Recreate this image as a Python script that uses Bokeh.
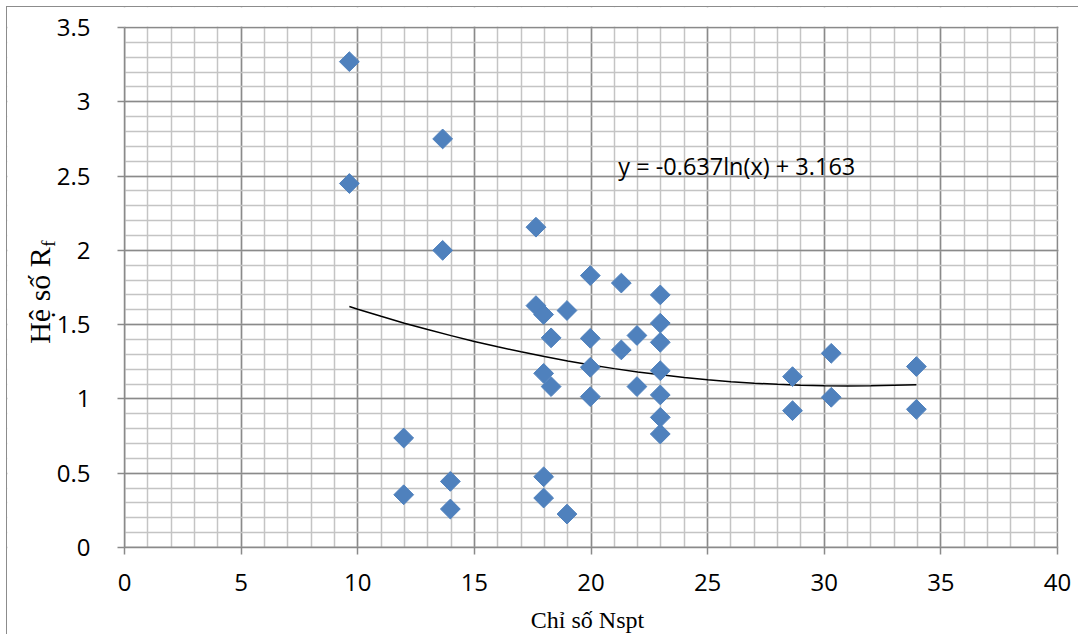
import math
from bokeh.plotting import figure
from bokeh.models import (Range1d, SingleIntervalTicker, FixedTicker, Label,
                          ColumnDataSource, BoxAnnotation, LinearAxis)
from bokeh.embed import file_html
from bokeh.resources import INLINE

# Data
nspt = [9.64, 9.64, 13.64, 13.64, 11.97, 11.97, 13.97, 13.97,
        17.64, 17.64, 17.97, 17.97, 17.97, 17.97, 18.29, 18.29,
        18.97, 18.97, 19.97, 19.97, 19.97, 19.97, 21.3, 21.3,
        21.97, 21.97, 22.97, 22.97, 22.97, 22.97, 22.97, 22.97, 22.97,
        28.64, 28.64, 30.3, 30.3, 33.95, 33.95]
rf = [3.27, 2.45, 2.75, 2.0, 0.737, 0.355, 0.445, 0.259,
      2.156, 1.628, 1.568, 1.172, 0.476, 0.333, 1.411, 1.083,
      1.595, 0.225, 1.83, 1.408, 1.213, 1.015, 1.78, 1.33,
      1.427, 1.083, 1.70, 1.51, 1.381, 1.19, 1.027, 0.876, 0.764,
      1.150, 0.921, 1.307, 1.011, 1.218, 0.930]

trend_x = [9.64, 10, 11, 12, 13, 14, 15, 16, 17, 18, 19, 20, 21, 22,
           23, 24, 25, 26, 27, 28, 29, 30, 31, 32, 33, 33.95]
trend_y = [1.622, 1.604, 1.556, 1.510, 1.467, 1.426, 1.387, 1.351, 1.317,
           1.285, 1.256, 1.229, 1.204, 1.182, 1.162, 1.144, 1.129, 1.116,
           1.106, 1.098, 1.092, 1.088, 1.087, 1.088, 1.092, 1.095]

equation = "y = -0.637ln(x) + 3.163"
x_title = "Chỉ số Nspt"
y_title = "Hệ số R"
y_title_sub = "f"

X_MIN, X_MAX = 0, 40
Y_MIN, Y_MAX = 0, 3.5

TICK_FONT = "Open Sans"
SERIF = "Liberation Serif"
GRID_MAJOR = "#8a8a8a"
GRID_MINOR = "#c4c4c4"

# layout (pixels, relative to the canvas)
W, H = 1072, 628
PLOT_L, PLOT_T, PLOT_W, PLOT_H = 117, 20, 933, 520
sx = PLOT_W / (X_MAX - X_MIN)
sy = PLOT_H / (Y_MAX - Y_MIN)
x_start = X_MIN - PLOT_L / sx
x_end = x_start + W / sx
y_end = Y_MAX + PLOT_T / sy
y_start = y_end - H / sy


def px_x(px):  # page px -> data x
    return x_start + (px - 7) / sx


def px_y(py):  # page px (from top) -> data y
    return y_end - (py - 7) / sy


p = figure(width=W, height=H, output_backend="svg", toolbar_location=None,
           x_range=Range1d(x_start, x_end), y_range=Range1d(y_start, y_end),
           min_border_left=0, min_border_top=0, min_border_right=0,
           min_border_bottom=0)
p.styles = {"margin-left": "6px", "margin-top": "6px",
            "border-left": "1px solid #8c8c8c", "border-top": "1px solid #8c8c8c"}
p.outline_line_color = None
p.background_fill_color = "white"
p.border_fill_color = "white"

xt = SingleIntervalTicker(interval=5, num_minor_ticks=5)
yt = SingleIntervalTicker(interval=0.5, num_minor_ticks=5)
p.xaxis.ticker = xt
p.yaxis.ticker = yt
p.xgrid.ticker = xt
p.ygrid.ticker = yt
p.xgrid.bounds = (X_MIN, X_MAX)
p.ygrid.bounds = (Y_MIN, Y_MAX)

for g in (p.xgrid, p.ygrid):
    g.grid_line_color = GRID_MAJOR
    g.grid_line_width = 1.5
    g.minor_grid_line_color = GRID_MINOR
    g.minor_grid_line_width = 1.5
    g.level = "image"

# white masks outside the plotting area
for kw in (dict(right=X_MIN), dict(left=X_MAX + 1.0 / sx),
           dict(top=Y_MIN), dict(bottom=Y_MAX + 1.0 / sy)):
    p.add_layout(BoxAnnotation(fill_color="white", fill_alpha=1.0,
                               line_color=None, level="underlay", **kw))

for ax in (p.xaxis, p.yaxis):
    ax.fixed_location = 0
    ax.axis_line_color = GRID_MAJOR
    ax.axis_line_width = 1.5
    ax.major_tick_line_color = GRID_MAJOR
    ax.major_tick_line_width = 1.5
    ax.major_tick_in = 0
    ax.major_tick_out = 7
    ax.minor_tick_line_color = None
    ax.major_label_text_font = TICK_FONT
    ax.major_label_text_font_size = "24px"
    ax.major_label_text_color = "black"

p.xaxis.bounds = (X_MIN, X_MAX)
p.yaxis.bounds = (Y_MIN, Y_MAX)
p.xaxis.major_label_standoff = 19
p.yaxis.major_label_standoff = 27


def title_axis(text, size, x_loc, y_center):
    a = LinearAxis(ticker=FixedTicker(ticks=[]), fixed_location=x_loc,
                   bounds=(y_center - 0.1, y_center + 0.1),
                   axis_line_color=None, major_tick_line_color=None,
                   minor_tick_line_color=None, major_tick_in=0, major_tick_out=0,
                   minor_tick_in=0, minor_tick_out=0, major_label_standoff=0,
                   axis_label=text, axis_label_standoff=0,
                   axis_label_text_font=SERIF, axis_label_text_font_style="normal",
                   axis_label_text_font_size=size, axis_label_text_color="black")
    p.add_layout(a, "left")


# rotated y title: main part and subscript
title_axis(y_title, "30px", px_x(55), px_y(295))
title_axis(y_title_sub, "19px", px_x(58), px_y(243))

p.line(trend_x, trend_y, line_color="black", line_width=1.5)

src = ColumnDataSource(data=dict(x=nspt, y=rf))
p.scatter("x", "y", source=src, marker="square", size=14, angle=math.pi / 4,
          fill_color="#4f81bd", line_color="#4f81bd", line_width=1)

p.add_layout(Label(x=21.17, y=2.57, text=equation, text_font=TICK_FONT,
                   text_font_size="23.5px", text_color="black",
                   text_baseline="alphabetic", text_align="left"))

p.add_layout(Label(x=px_x(587), y=px_y(619), text=x_title,
                   text_font=SERIF, text_font_size="24px", text_color="black",
                   text_baseline="alphabetic", text_align="center"))

open("out.html", "w").write(file_html(p, INLINE))
